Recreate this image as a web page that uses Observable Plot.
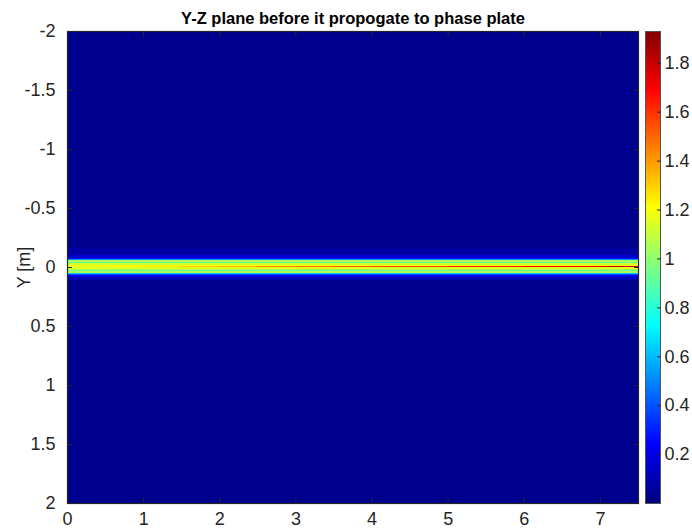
<!DOCTYPE html>
<html>
<head>
<meta charset="utf-8">
<script src="https://cdn.jsdelivr.net/npm/d3@7"></script>
<script src="https://cdn.jsdelivr.net/npm/@observablehq/plot@0.6"></script>
<style>
  html, body { margin: 0; padding: 0; background: white; }
  #wrap { position: relative; width: 692px; height: 532px; }
  #cbar { position: absolute; left: 630px; top: 0; }
</style>
</head>
<body>
<div id="wrap"><div id="main"></div><div id="cbar"></div></div>
<script>
// ---- data ----
const title = "Y-Z plane before it propogate to phase plate";
const yLabel = "Y [m]";
const zTicks = [0, 1, 2, 3, 4, 5, 6, 7];
const yTicks = [-2, -1.5, -1, -0.5, 0, 0.5, 1, 1.5, 2];
const colorTicks = [0.2, 0.4, 0.6, 0.8, 1, 1.2, 1.4, 1.6, 1.8];
const zDomain = [0, 7.5];
const yDomain = [-2, 2];
const colorDomain = [0, 1.93];
const backgroundValue = 0.03;

// transverse profile of the beam (row boundaries in Y [m] and intensity per row)
const profileEdges = [-0.16, -0.1, -0.08, -0.068, -0.062, -0.056, -0.046, -0.038, -0.03, -0.02, -0.009,
                      0.004, 0.014, 0.022, 0.03, 0.038, 0.048, 0.055, 0.062, 0.07, 0.085, 0.11];
const profileValues = [0.07, 0.15, 0.3, 0.5, 0.75, 1.05, 0.92, 1.02, 1.12, 1.2, 1.3,
                       1.15, 1.05, 0.92, 0.98, 1.05, 0.8, 0.6, 0.4, 0.22, 0.1];

// centre line of the beam, intensity along Z
const centreY = [-0.009, 0.004];
const centreZEdges = [0, 0.5, 1, 1.5, 2, 2.5, 3, 3.5, 4, 5, 6, 7, 7.5];
const centreValues = [1.15, 1.2, 1.25, 1.3, 1.35, 1.42, 1.48, 1.52, 1.56, 1.63, 1.7, 1.8];

// ---- jet colormap ----
const jet = (t) => {
  t = Math.max(0, Math.min(1, t));
  const c = (v) => Math.round(255 * Math.max(0, Math.min(1, v)));
  return `rgb(${c(1.5 - Math.abs(4 * t - 3))},${c(1.5 - Math.abs(4 * t - 2))},${c(1.5 - Math.abs(4 * t - 1))})`;
};

const rows = profileValues.map((v, i) => ({y1: profileEdges[i], y2: profileEdges[i + 1], v}));
const centre = centreValues.map((v, i) => ({x1: centreZEdges[i], x2: centreZEdges[i + 1], y1: centreY[0], y2: centreY[1], v}));

const font = "'Liberation Sans', Arial, sans-serif";
const axisColor = "#262626";
const fs = 18;

const main = Plot.plot({
  width: 692, height: 532,
  marginLeft: 67, marginRight: 54, marginTop: 31, marginBottom: 29,
  style: {fontFamily: font, fontSize: fs + "px", color: axisColor, background: "transparent"},
  x: {domain: zDomain},
  y: {domain: yDomain, reverse: true},
  color: {type: "linear", domain: colorDomain, interpolate: jet},
  marks: [
    Plot.rect([backgroundValue], {fill: d => d, shapeRendering: "crispEdges"}),
    Plot.rect(rows, {y1: "y1", y2: "y2", fill: "v", shapeRendering: "crispEdges"}),
    Plot.rect(centre, {x1: "x1", x2: "x2", y1: "y1", y2: "y2", fill: "v", shapeRendering: "crispEdges"}),
    Plot.frame({stroke: axisColor, strokeWidth: 1.2}),
    Plot.axisX({ticks: zTicks, tickSize: -5, tickPadding: 14, tickFormat: d => String(d), label: null,
                stroke: axisColor, fontSize: fs}),
    Plot.axisX({anchor: "top", ticks: zTicks, tickSize: -5, tickFormat: () => "", label: null, stroke: axisColor}),
    Plot.axisY({ticks: yTicks, tickSize: -5, tickPadding: 17, tickFormat: d => String(d), fontSize: fs,
                label: yLabel, labelAnchor: "center", labelArrow: "none", labelOffset: 50, stroke: axisColor}),
    Plot.axisY({anchor: "right", ticks: yTicks, tickSize: -5, tickFormat: () => "", label: null, stroke: axisColor}),
    Plot.text([title], {frameAnchor: "top", dy: -19, fontWeight: "bold", fontSize: 16.5, fill: "black"})
  ]
});
document.getElementById("main").appendChild(main);

const ramp = d3.range(0, colorDomain[1], 0.005);
const cbar = Plot.plot({
  width: 62, height: 532,
  marginLeft: 15, marginRight: 32, marginTop: 31, marginBottom: 29,
  style: {fontFamily: font, fontSize: fs + "px", color: axisColor, background: "transparent", overflow: "visible"},
  y: {domain: colorDomain},
  color: {type: "linear", domain: colorDomain, interpolate: jet},
  marks: [
    Plot.rect(ramp, {y1: d => d, y2: d => Math.min(d + 0.006, colorDomain[1]), fill: d => d, shapeRendering: "crispEdges"}),
    Plot.frame({stroke: "#555", strokeWidth: 1}),
    Plot.axisY({anchor: "right", ticks: colorTicks, tickSize: -4, tickPadding: 8, tickFormat: d => String(d),
                label: null, stroke: axisColor, fontSize: fs})
  ]
});
document.getElementById("cbar").appendChild(cbar);
</script>
</body>
</html>
